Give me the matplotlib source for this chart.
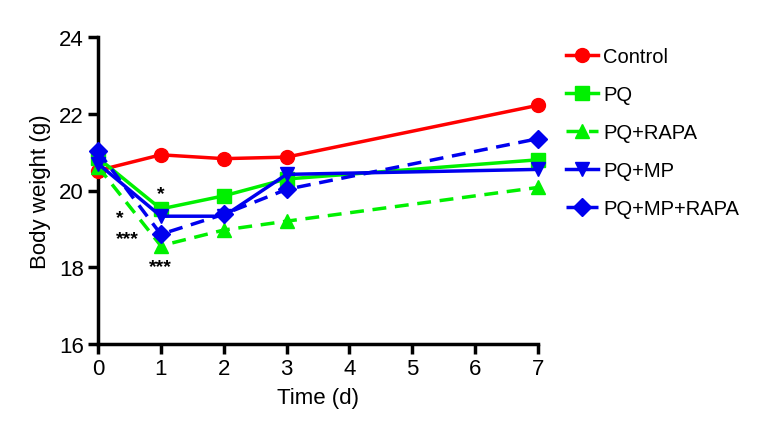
import matplotlib
matplotlib.use("Agg")
import matplotlib.pyplot as plt

plt.rcParams.update({
    "font.family": ["Liberation Sans", "DejaVu Sans"],
    "font.size": 16,
})

# ── data ─────────────────────────────────────────────────────────────
days = [0, 1, 2, 3, 7]
control = [20.52, 20.93, 20.83, 20.87, 22.22]
pq = [20.85, 19.52, 19.86, 20.30, 20.80]
pq_rapa = [20.62, 18.56, 18.97, 19.20, 20.08]
pq_mp = [20.70, 19.33, 19.33, 20.42, 20.55]
pq_mp_rapa = [21.02, 18.86, 19.38, 20.03, 21.35]

series = [
    ("Control", control, "#ff0000", "-", "o"),
    ("PQ", pq, "#00f000", "-", "s"),
    ("PQ+RAPA", pq_rapa, "#00f000", "--", "^"),
    ("PQ+MP", pq_mp, "#0000ee", "-", "v"),
    ("PQ+MP+RAPA", pq_mp_rapa, "#0000ee", "--", "D"),
]

# significance marks (x, y, text)
star_x = [1.0, 0.35, 0.47, 1.0]
star_y = [19.92, 19.30, 18.75, 18.03]
star_txt = ["*", "*", "***", "***"]

xticks = [0, 1, 2, 3, 4, 5, 6, 7]
yticks = [16, 18, 20, 22, 24]

# ── figure ───────────────────────────────────────────────────────────
fig = plt.figure(figsize=(7.71, 4.35), dpi=100)
ax = fig.add_axes([98 / 771, 90 / 435, 440 / 771, 307 / 435])

for label, vals, color, ls, marker in series:
    ms = 9 if marker == "D" else 10
    ax.plot(days, vals, color=color, linestyle=ls, lw=2.5, marker=marker,
            markersize=ms, label=label, clip_on=False, zorder=3,
            dashes=(4, 2.5) if ls == "--" else (None, None))

for x, y, t in zip(star_x, star_y, star_txt):
    ax.text(x, y, t, ha="center", va="center", fontsize=14,
            fontweight="bold", color="black")

ax.set_xlim(0, 7)
ax.set_ylim(16, 24)
ax.set_xticks(xticks)
ax.set_yticks(yticks)
ax.spines["top"].set_visible(False)
ax.spines["right"].set_visible(False)
for s in ("left", "bottom"):
    ax.spines[s].set_linewidth(2.5)
ax.tick_params(width=2.5, length=7, direction="out", labelsize=16, pad=3)
ax.set_xlabel("Time (d)", fontsize=16, labelpad=6)
ax.set_ylabel("Body weight (g)", fontsize=16, labelpad=6)

ax.legend(loc="upper left", bbox_to_anchor=(1.045, 0.995), frameon=False,
          fontsize=14.5, handlelength=1.6, handletextpad=0.25,
          labelspacing=0.95, borderaxespad=0)

fig.savefig("out.png", dpi=100)
